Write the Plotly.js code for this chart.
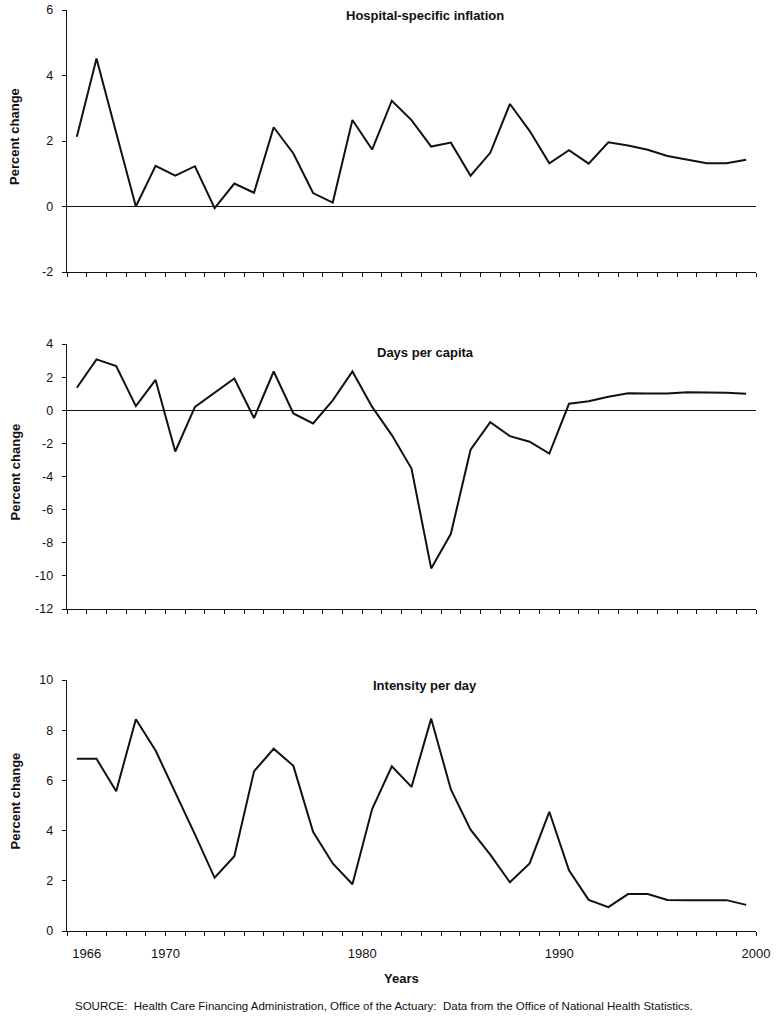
<!DOCTYPE html>
<html>
<head>
<meta charset="utf-8">
<script src="https://cdn.plot.ly/plotly-3.0.1.min.js"></script>
<style>
  body { margin: 0; background: #fff; }
  #chart { width: 782px; height: 1022px; }
</style>
</head>
<body>
<div id="chart"></div>
<script>
// Annual percent change, 1965-1999
const years = [1965, 1966, 1967, 1968, 1969, 1970, 1971, 1972, 1973, 1974,
               1975, 1976, 1977, 1978, 1979, 1980, 1981, 1982, 1983, 1984,
               1985, 1986, 1987, 1988, 1989, 1990, 1991, 1992, 1993, 1994,
               1995, 1996, 1997, 1998, 1999];

const hospitalInflation = [2.13, 4.52, 2.25, 0.0, 1.24, 0.94, 1.23, -0.05, 0.70, 0.42,
                           2.42, 1.62, 0.41, 0.12, 2.64, 1.74, 3.23, 2.64, 1.83, 1.95,
                           0.94, 1.64, 3.13, 2.31, 1.32, 1.72, 1.31, 1.96, 1.86, 1.73,
                           1.54, 1.43, 1.32, 1.32, 1.43];

const daysPerCapita = [1.36, 3.07, 2.67, 0.25, 1.83, -2.49, 0.20, 1.05, 1.92, -0.47,
                       2.34, -0.19, -0.80, 0.60, 2.34, 0.20, -1.50, -3.52, -9.55, -7.46,
                       -2.38, -0.72, -1.56, -1.90, -2.62, 0.39, 0.54, 0.81, 1.03, 1.01,
                       1.01, 1.08, 1.07, 1.06, 0.99];

const intensityPerDay = [6.86, 6.86, 5.57, 8.44, 7.19, 5.55, 3.85, 2.12, 2.98, 6.36,
                         7.26, 6.58, 3.95, 2.69, 1.86, 4.86, 6.56, 5.74, 8.46, 5.64,
                         4.04, 3.04, 1.94, 2.69, 4.75, 2.42, 1.24, 0.95, 1.47, 1.47,
                         1.24, 1.23, 1.23, 1.23, 1.04];

const panelTitles = ['Hospital-specific inflation', 'Days per capita', 'Intensity per day'];
const yTicks = [[-2, 0, 2, 4, 6],
                [-12, -10, -8, -6, -4, -2, 0, 2, 4],
                [0, 2, 4, 6, 8, 10]];
const labelledYears = [1966, 1970, 1980, 1990, 2000];
const sourceNote = 'SOURCE:&nbsp; Health Care Financing Administration, Office of the Actuary:&nbsp; Data from the Office of National Health Statistics.';

const FONT = 'Arial, "Liberation Sans", Helvetica, sans-serif';
const W = 782, H = 1022;
const py = p => 1 - p / H;   // pixel row -> paper y
const px = p => p / W;       // pixel column -> paper x

// tick at every year boundary, labels only on a few
const tickYears = [];
for (let y = 1965; y <= 2000; y++) tickYears.push(y);
const tickVals = tickYears.map(y => y + '-01-01');
const tickText = tickYears.map(y => labelledYears.includes(y) ? String(y) : '');

const series = [hospitalInflation, daysPerCapita, intensityPerDay];
const xDates = years.map(y => String(y));

const traces = series.map((vals, i) => ({
    x: xDates,
    y: vals,
    xperiod: 'M12',
    xperiodalignment: 'middle',
    type: 'scatter',
    mode: 'lines',
    line: { color: '#111', width: 2 },
    xaxis: i === 0 ? 'x' : 'x' + (i + 1),
    yaxis: i === 0 ? 'y' : 'y' + (i + 1),
    hoverinfo: 'skip',
    showlegend: false
}));

// plot areas in pixels (top, bottom)
const panels = [[10, 272], [344, 609], [680, 931]];
const xDomain = [px(67), px(756)];

const layout = {
    width: W,
    height: H,
    margin: { l: 0, r: 0, t: 0, b: 0 },
    paper_bgcolor: '#fff',
    plot_bgcolor: '#fff',
    font: { family: FONT, color: '#111', size: 12 },
    showlegend: false,
    annotations: []
};

panels.forEach((p, i) => {
    const n = i === 0 ? '' : String(i + 1);
    const yt = yTicks[i];
    layout['xaxis' + n] = {
        type: 'date',
        domain: xDomain,
        anchor: 'y' + n,
        range: ['1965-01-01', '2000-01-01'],
        tickmode: 'array',
        tickvals: tickVals,
        ticktext: tickText,
        showticklabels: i === 2,
        ticks: 'outside',
        ticklen: 4,
        tickwidth: 1,
        tickcolor: '#111',
        ticklabelstandoff: 6,
        tickfont: { size: 13 },
        showline: true,
        linecolor: '#111',
        linewidth: 1.3,
        showgrid: false,
        zeroline: false,
        fixedrange: true
    };
    layout['yaxis' + n] = {
        domain: [py(p[1]), py(p[0])],
        anchor: 'x' + n,
        range: [yt[0], yt[yt.length - 1]],
        tickmode: 'array',
        tickvals: yt,
        ticktext: yt.map(v => String(v)),   // plain hyphen like the original
        ticks: 'outside',
        ticklen: 4,
        tickwidth: 1,
        tickcolor: '#111',
        ticklabelstandoff: 6,
        tickfont: { size: 12.5 },
        showline: true,
        linecolor: '#111',
        linewidth: 1.3,
        showgrid: false,
        zeroline: i < 2,
        zerolinecolor: '#111',
        zerolinewidth: 1,
        fixedrange: true
    };

    layout.annotations.push({
        text: '<b>' + panelTitles[i] + '</b>',
        xref: 'paper', yref: 'paper',
        x: px(425), y: py([15, 352, 685][i]),
        xanchor: 'center', yanchor: 'middle',
        showarrow: false,
        font: { size: 13 }
    });
    layout.annotations.push({
        text: '<b>Percent change</b>',
        xref: 'paper', yref: 'paper',
        x: px(15), y: py((p[0] + p[1]) / 2 - 4),
        xanchor: 'center', yanchor: 'middle',
        textangle: -90,
        showarrow: false,
        font: { size: 13 }
    });
});

layout.annotations.push({
    text: '<b>Years</b>',
    xref: 'paper', yref: 'paper',
    x: px(401), y: py(978),
    xanchor: 'center', yanchor: 'middle',
    showarrow: false,
    font: { size: 13 }
});
layout.annotations.push({
    text: sourceNote,
    xref: 'paper', yref: 'paper',
    x: px(384), y: py(1006),
    xanchor: 'center', yanchor: 'middle',
    showarrow: false,
    font: { size: 11.5 }
});

Plotly.newPlot('chart', traces, layout, { staticPlot: true, displayModeBar: false });
</script>
</body>
</html>
